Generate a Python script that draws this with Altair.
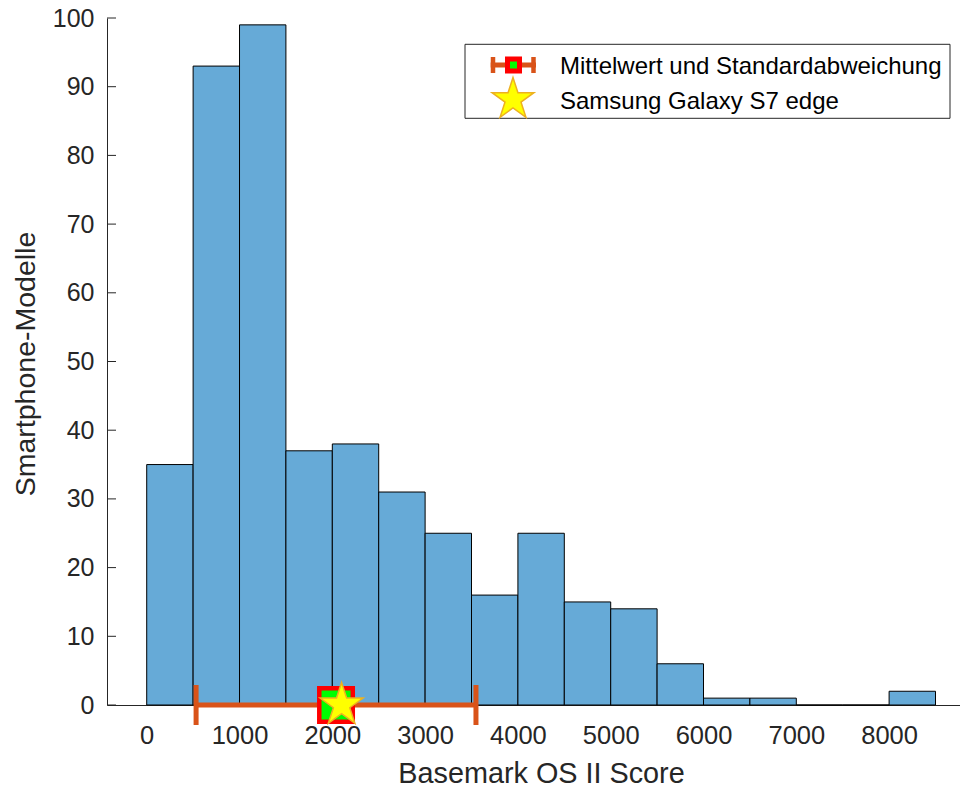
import altair as alt
import pandas as pd

# ---- data ----
bin_starts = [0, 500, 1000, 1500, 2000, 2500, 3000, 3500, 4000, 4500,
              5000, 5500, 6000, 6500, 7000, 7500, 8000]
counts = [35, 93, 99, 37, 38, 31, 25, 16, 25, 15, 14, 6, 1, 1, 0, 0, 2]
bin_width = 500
y_ticks = [0, 10, 20, 30, 40, 50, 60, 70, 80, 90, 100]
x_ticks = [0, 1000, 2000, 3000, 4000, 5000, 6000, 7000, 8000]
mean_score = 2040
std_score = 1508
s7_score = 2100
legend_labels = ["Mittelwert und Standardabweichung", "Samsung Galaxy S7 edge"]

FONT = "Liberation Sans"
AX = "#262626"
W, H = 853, 687
STAR = ("M0,-1L0.2245,-0.309L0.951,-0.309L0.363,0.118L0.588,0.809L0,0.382"
        "L-0.588,0.809L-0.363,0.118L-0.951,-0.309L-0.2245,-0.309Z")

hist = pd.DataFrame({"start": bin_starts,
                     "end": [b + bin_width for b in bin_starts],
                     "count": counts})
stats = pd.DataFrame({"mean": [mean_score],
                      "lo": [mean_score - std_score],
                      "hi": [mean_score + std_score],
                      "zero": [0]})
caps = pd.DataFrame({"x": [mean_score - std_score, mean_score + std_score], "zero": [0, 0]})
s7 = pd.DataFrame({"x": [s7_score], "zero": [0]})
ticks_df = pd.DataFrame({"v": y_ticks})

xscale = alt.Scale(domain=[-428, 8764], nice=False, zero=False)
yscale = alt.Scale(domain=[0, 100], nice=False)

xaxis = alt.Axis(values=x_ticks, format="d", ticks=False, grid=False, domain=True,
                 domainColor=AX, domainWidth=1, labelFont=FONT, labelFontSize=25.5,
                 labelColor=AX, labelPadding=18, title="Basemark OS II Score",
                 titleFont=FONT, titleFontSize=28.8, titleColor=AX,
                 titleFontWeight="normal", titleX=434, titleY=68.5,
                 titleBaseline="middle", titleAlign="center", labelFlush=False)
yaxis = alt.Axis(values=y_ticks, format="d", ticks=False, grid=False, domain=True,
                 domainColor=AX, domainWidth=1, labelFont=FONT, labelFontSize=25,
                 labelColor=AX, labelPadding=13, title="Smartphone-Modelle",
                 titleFont=FONT, titleFontSize=28.5, titleColor=AX,
                 titleFontWeight="normal", titleX=-82, titleY=345.5,
                 titleAngle=270, titleBaseline="middle", titleAlign="center",
                 labelFlush=False)

bars = alt.Chart(hist).mark_bar(fill="#66AAD7", stroke="black", strokeWidth=1,
                                opacity=1).encode(
    x=alt.X("start:Q", scale=xscale, axis=xaxis),
    x2="end:Q",
    y=alt.Y("count:Q", scale=yscale, axis=yaxis),
    y2=alt.datum(0),
)

yticks_in = alt.Chart(ticks_df).mark_rule(color=AX, strokeWidth=1).encode(
    y=alt.Y("v:Q", scale=yscale),
    x=alt.value(0), x2=alt.value(9),
)

err_line = alt.Chart(stats).mark_rule(color="#D95319", strokeWidth=5).encode(
    x=alt.X("lo:Q", scale=xscale), x2="hi:Q",
    y=alt.Y("zero:Q", scale=yscale),
)
err_caps = alt.Chart(caps).mark_tick(color="#D95319", orient="vertical", size=40,
                                     thickness=5, opacity=1).encode(
    x=alt.X("x:Q", scale=xscale),
    y=alt.Y("zero:Q", scale=yscale),
)
mean_pt = alt.Chart(stats).mark_point(shape="square", filled=True, fill="#00FF00",
                                      stroke="#FF0000", strokeWidth=4.5, size=1122,
                                      opacity=1).encode(
    x=alt.X("mean:Q", scale=xscale),
    y=alt.Y("zero:Q", scale=yscale),
)
star_pt = alt.Chart(s7).mark_point(shape=STAR, filled=True, fill="#FFFF00",
                                   stroke="#EDB120", strokeWidth=1.5, size=2043,
                                   opacity=1).encode(
    x=alt.X("x:Q", scale=xscale),
    y=alt.Y("zero:Q", scale=yscale),
)

# ---- legend (drawn by hand) ----
leg_box = alt.Chart(stats).mark_rect(fill="white", stroke=AX, strokeWidth=1).encode(
    x=alt.value(358), x2=alt.value(843), y=alt.value(26.3), y2=alt.value(100.3))
leg_line = alt.Chart(stats).mark_rule(color="#D95319", strokeWidth=5).encode(
    x=alt.value(383.7), x2=alt.value(429), y=alt.value(47))
leg_cap1 = alt.Chart(stats).mark_rule(color="#D95319", strokeWidth=4.5).encode(
    x=alt.value(386), y=alt.value(39), y2=alt.value(55))
leg_cap2 = alt.Chart(stats).mark_rule(color="#D95319", strokeWidth=4.5).encode(
    x=alt.value(426.5), y=alt.value(39), y2=alt.value(55))
leg_sq = alt.Chart(stats).mark_point(shape="square", filled=True, fill="#00FF00",
                                     stroke="#FF0000", strokeWidth=5, size=144,
                                     opacity=1).encode(
    x=alt.value(406.5), y=alt.value(47))
leg_star = alt.Chart(stats).mark_point(shape=STAR, filled=True, fill="#FFFF00",
                                       stroke="#EDB120", strokeWidth=1.5, size=1936,
                                       opacity=1).encode(
    x=alt.value(406), y=alt.value(81.5))
leg_df = pd.DataFrame({"label": legend_labels, "row": [0, 1]})
leg_text = alt.Chart(leg_df).mark_text(font=FONT, fontSize=24, color="black",
                                       align="left", baseline="middle").encode(
    x=alt.value(453),
    y=alt.Y("row:Q", scale=alt.Scale(domain=[0, 1], range=[49, 83.5]), axis=None),
    text="label:N",
)

chart = alt.layer(
    bars, yticks_in, err_line, err_caps, mean_pt, star_pt,
    leg_box, leg_line, leg_cap1, leg_cap2, leg_sq, leg_star, leg_text,
).resolve_scale(y="independent").properties(
    width=W, height=H,
    autosize=alt.AutoSizeParams(type="none"),
    padding={"left": 99, "top": 10, "right": 0, "bottom": 84},
    background="white",
).configure_view(stroke=None)

chart.save("out.html", embed_options={"renderer": "svg", "actions": False})
